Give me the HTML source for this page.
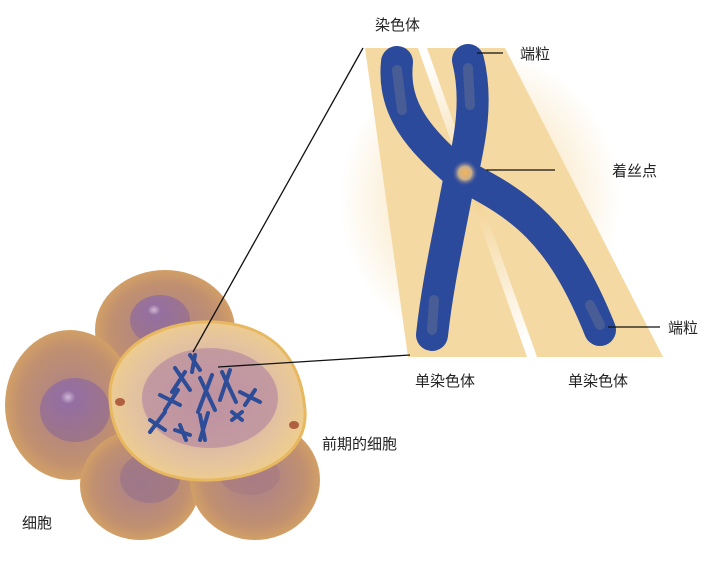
<!DOCTYPE html>
<html><head><meta charset="utf-8"><style>
body{margin:0;background:#fff;}
svg{display:block}
text{font-family:"Liberation Sans","Noto Sans CJK SC",sans-serif;font-size:15px;fill:#222}
</style></head><body>
<svg width="717" height="561" viewBox="0 0 717 561">
<defs>
<radialGradient id="glow" cx="0.5" cy="0.5" r="0.5"><stop offset="0" stop-color="#f3cf8a" stop-opacity="0.9"/><stop offset="1" stop-color="#f3cf8a" stop-opacity="0"/></radialGradient>
<radialGradient id="cell" cx="0.5" cy="0.5" r="0.6"><stop offset="0" stop-color="#a9808c"/><stop offset="0.65" stop-color="#c19070"/><stop offset="1" stop-color="#e0ad5c"/></radialGradient>
<radialGradient id="nuc" cx="0.4" cy="0.3" r="0.7"><stop offset="0" stop-color="#d8c6ea"/><stop offset="0.15" stop-color="#8e6aa8"/><stop offset="1" stop-color="#987088"/></radialGradient>
<radialGradient id="main" cx="0.5" cy="0.5" r="0.55"><stop offset="0" stop-color="#c9a0a6"/><stop offset="0.7" stop-color="#e4c3a0"/><stop offset="1" stop-color="#f0cf8a"/></radialGradient>
<radialGradient id="cen" cx="0.5" cy="0.5" r="0.5"><stop offset="0" stop-color="#f2b35a"/><stop offset="0.5" stop-color="#cdb08a"/><stop offset="1" stop-color="#3a55a0" stop-opacity="0"/></radialGradient>
</defs>
<ellipse cx="480" cy="200" rx="140" ry="150" fill="url(#glow)"/>
<polygon points="365,48 418,48 527,357 408,357" fill="#f4d9a2"/>
<polygon points="427,48 505,48 663,357 537,357" fill="#f4d9a2"/>
<g fill="none" stroke-linecap="round">
<path d="M397,62 C392,110 420,140 460,175 C450,230 438,280 432,335" stroke="#2b4a9c" stroke-width="32"/>
<path d="M468,60 C478,100 470,140 462,175 C520,205 560,230 600,330" stroke="#2b4a9c" stroke-width="32"/>
<path d="M397,70 L402,110" stroke="#8a8a88" stroke-width="10" opacity="0.3"/>
<path d="M468,68 L470,105" stroke="#8a8a88" stroke-width="10" opacity="0.3"/>
<path d="M434,300 L432,330" stroke="#8a8a88" stroke-width="10" opacity="0.3"/>
<path d="M590,305 L600,325" stroke="#8a8a88" stroke-width="10" opacity="0.3"/>
</g>
<circle cx="465" cy="173" r="13" fill="url(#cen)"/>
<!-- cells -->
<ellipse cx="165" cy="330" rx="70" ry="60" fill="url(#cell)"/>
<ellipse cx="70" cy="405" rx="65" ry="75" fill="url(#cell)"/>
<ellipse cx="140" cy="485" rx="60" ry="55" fill="url(#cell)"/>
<ellipse cx="255" cy="480" rx="65" ry="60" fill="url(#cell)"/>
<ellipse cx="160" cy="320" rx="30" ry="25" fill="url(#nuc)" opacity="0.8"/>
<ellipse cx="75" cy="410" rx="35" ry="32" fill="url(#nuc)" opacity="0.8"/>
<ellipse cx="150" cy="478" rx="30" ry="25" fill="#9a7488" opacity="0.7"/>
<ellipse cx="250" cy="475" rx="30" ry="20" fill="#a87a80" opacity="0.7"/>
<path d="M110,390 C115,340 170,320 215,322 C265,325 300,350 305,410 C308,450 270,478 210,480 C150,482 108,450 110,390 Z" fill="url(#main)" stroke="#e8b860" stroke-width="3"/>
<ellipse cx="210" cy="398" rx="68" ry="50" fill="#b98ea0" opacity="0.75"/>
<g stroke="#2e4d98" stroke-width="4" stroke-linecap="round">
<path d="M190,355 L200,370 M195,355 L192,372"/><path d="M175,368 L190,390 M185,372 L172,392"/>
<path d="M200,378 L215,410 M212,375 L198,412"/><path d="M222,372 L236,402 M230,370 L220,400"/>
<path d="M160,395 L180,405 M178,390 L165,410"/><path d="M150,420 L165,430 M165,412 L150,432"/>
<path d="M175,430 L190,435 M180,425 L186,440"/><path d="M240,392 L260,402 M255,390 L245,405"/>
<path d="M232,420 L242,412 M232,412 L242,420"/><path d="M200,415 L205,440 M208,413 L200,440"/>
</g>
<ellipse cx="120" cy="402" rx="5" ry="4" fill="#b06040"/>
<ellipse cx="294" cy="425" rx="5" ry="4" fill="#b06040"/>
<g stroke="#111" stroke-width="1.3">
<line x1="477" y1="53" x2="503" y2="53"/>
<line x1="486" y1="170" x2="555" y2="170"/>
<line x1="608" y1="327" x2="660" y2="327"/>
<line x1="363" y1="48" x2="193" y2="352"/>
<line x1="410" y1="355" x2="218" y2="367"/>
</g>
<text x="375" y="30">染色体</text>
<text x="520" y="59">端粒</text>
<text x="612" y="176">着丝点</text>
<text x="668" y="333">端粒</text>
<text x="415" y="386">单染色体</text>
<text x="568" y="386">单染色体</text>
<text x="322" y="449">前期的细胞</text>
<text x="22" y="528">细胞</text>
</svg>
</body></html>
